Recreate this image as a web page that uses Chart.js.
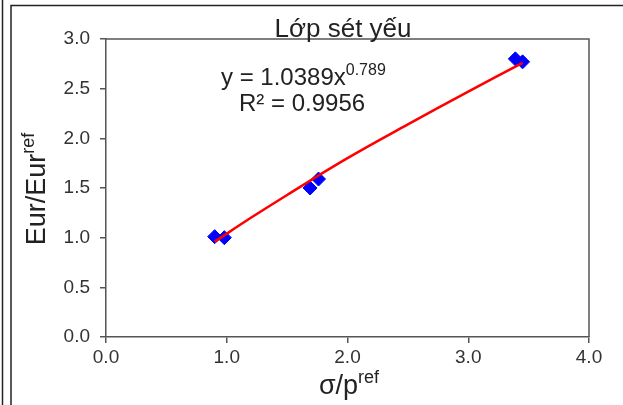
<!DOCTYPE html>
<html>
<head>
<meta charset="utf-8">
<script src="https://cdn.jsdelivr.net/npm/chart.js@4/dist/chart.umd.min.js"></script>
<style>
  html, body { margin: 0; padding: 0; background: #fff; }
  #wrap { width: 623px; height: 405px; position: relative; }
</style>
</head>
<body>
<div id="wrap"><canvas id="chart" width="623" height="405"></canvas></div>
<script>
// measured points (sigma/pref, Eur/Eurref)
const xValues = [0.90, 0.98, 1.69, 1.76, 3.39, 3.45];
const yValues = [1.01, 1.00, 1.50, 1.59, 2.80, 2.77];

// power trendline
const trendX = [0.90, 1.2, 1.5, 2.0, 2.5, 3.0, 3.45];
const trendY = [0.96, 1.20, 1.43, 1.80, 2.14, 2.47, 2.76];

const xTicks = [0, 1, 2, 3, 4];
const yTicks = [0, 0.5, 1, 1.5, 2, 2.5, 3];

const titleText = 'Lớp sét yếu';
const eqText = 'y = 1.0389x';
const eqExp = '0.789';
const r2Text = 'R² = 0.9956';

const FONT = '"Liberation Sans", Arial, sans-serif';
const AXIS = '#555';

const points = xValues.map((x, i) => ({ x, y: yValues[i] }));
const trend = trendX.map((x, i) => ({ x, y: trendY[i] }));

function supText(ctx, base, sup, x, y, size, supSize, align) {
  ctx.font = size + 'px ' + FONT;
  const w1 = ctx.measureText(base).width;
  ctx.font = supSize + 'px ' + FONT;
  const w2 = ctx.measureText(sup).width;
  let start = x;
  if (align === 'center') start = x - (w1 + w2) / 2;
  ctx.textAlign = 'left';
  ctx.textBaseline = 'alphabetic';
  ctx.font = size + 'px ' + FONT;
  ctx.fillText(base, start, y);
  ctx.font = supSize + 'px ' + FONT;
  ctx.fillText(sup, start + w1, y - size * 0.42);
}

const decor = {
  id: 'decor',
  beforeDraw(chart) {
    const ctx = chart.ctx;
    ctx.save();
    ctx.fillStyle = '#fff';
    ctx.fillRect(0, 0, chart.width, chart.height);
    // outer frames
    ctx.strokeStyle = '#222';
    ctx.lineWidth = 1.5;
    ctx.beginPath();
    ctx.moveTo(2.5, 0); ctx.lineTo(2.5, 405);
    ctx.moveTo(11, 405); ctx.lineTo(11, 5.5); ctx.lineTo(623, 5.5);
    ctx.stroke();
    ctx.restore();
  },
  afterDraw(chart) {
    const ctx = chart.ctx;
    const a = chart.chartArea;
    ctx.save();
    ctx.strokeStyle = AXIS;
    ctx.lineWidth = 1.5;
    ctx.beginPath();
    ctx.moveTo(a.left, a.top); ctx.lineTo(a.right, a.top); ctx.lineTo(a.right, a.bottom);
    ctx.stroke();

    ctx.fillStyle = '#222';
    ctx.textAlign = 'center';
    ctx.textBaseline = 'alphabetic';
    ctx.font = '26px ' + FONT;
    ctx.fillText(titleText, 343, 37);

    supText(ctx, eqText, eqExp, 221, 85, 24, 16, 'left');
    ctx.font = '24px ' + FONT;
    ctx.textAlign = 'left';
    ctx.fillText(r2Text, 239, 111);

    // x axis title
    supText(ctx, 'σ/p', 'ref', 349, 394, 27, 18, 'center');

    // y axis title
    ctx.translate(45, 189);
    ctx.rotate(-Math.PI / 2);
    supText(ctx, 'Eur/Eur', 'ref', 0, 0, 27, 18, 'center');
    ctx.restore();
  }
};

new Chart(document.getElementById('chart'), {
  type: 'scatter',
  data: {
    datasets: [
      {
        label: 'trend',
        type: 'line',
        data: trend,
        borderColor: '#ff0000',
        borderWidth: 2.5,
        pointRadius: 0,
        tension: 0.4,
        fill: false
      },
      {
        label: 'data',
        data: points,
        pointStyle: 'rectRot',
        pointRadius: 7,
        backgroundColor: '#0000ff',
        borderColor: '#0000ff',
        borderWidth: 1
      }
    ]
  },
  options: {
    responsive: false,
    animation: false,
    devicePixelRatio: 1,
    layout: { padding: { left: 0, right: 34, top: 39, bottom: 0 } },
    plugins: { legend: { display: false }, tooltip: { enabled: false }, title: { display: false } },
    scales: {
      x: {
        type: 'linear',
        min: 0, max: 4,
        afterBuildTicks: s => { s.ticks = xTicks.map(v => ({ value: v })); },
        afterFit: s => { s.height = 68; },
        ticks: {
          callback: v => v.toFixed(1),
          color: '#333',
          font: { family: FONT, size: 19 },
          padding: 3,
          maxRotation: 0
        },
        grid: { drawOnChartArea: false, tickLength: 6, color: AXIS, lineWidth: 1.5 },
        border: { color: AXIS, width: 1.5 }
      },
      y: {
        type: 'linear',
        min: 0, max: 3,
        afterBuildTicks: s => { s.ticks = yTicks.map(v => ({ value: v })); },
        afterFit: s => { s.width = 106; },
        ticks: {
          callback: v => v.toFixed(1),
          color: '#333',
          font: { family: FONT, size: 19 },
          padding: 10
        },
        grid: { drawOnChartArea: false, tickLength: 6, color: AXIS, lineWidth: 1.5 },
        border: { color: AXIS, width: 1.5 }
      }
    }
  },
  plugins: [decor]
});
</script>
</body>
</html>
